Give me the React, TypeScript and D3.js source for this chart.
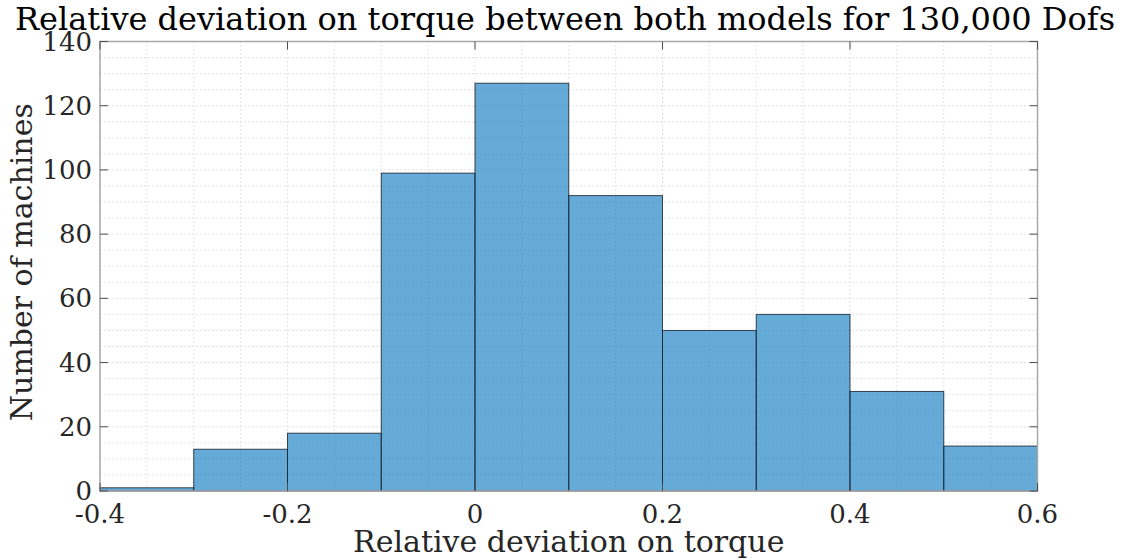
import React, { useEffect, useRef } from "react"
import * as d3 from "d3"

// bin edges and counts
const binEdges = [-0.4, -0.3, -0.2, -0.1, 0, 0.1, 0.2, 0.3, 0.4, 0.5, 0.6]
const binCounts = [1, 13, 18, 99, 127, 92, 50, 55, 31, 14]
const xTicks = [-0.4, -0.2, 0, 0.2, 0.4, 0.6]
const xTickLabels = ["-0.4", "-0.2", "0", "0.2", "0.4", "0.6"]
const yTicks = [0, 20, 40, 60, 80, 100, 120, 140]

const W = 1128
const H = 559
const margin = { left: 100, top: 41.5, right: 90.5, bottom: 68 }
const font = "'DejaVu Serif', serif"

const App = () => {
    const ref = useRef<SVGSVGElement>(null)

    useEffect(() => {
        const svg = d3.select(ref.current)
        svg.selectAll("*").remove()
        const x0 = margin.left
        const x1 = W - margin.right
        const y0 = H - margin.bottom
        const y1 = margin.top
        const xScale = d3.scaleLinear().domain([-0.4, 0.6]).range([x0, x1])
        const yScale = d3.scaleLinear().domain([0, 140]).range([y0, y1])

        // minor grid (every 0.05 / every 5)
        const gx = d3.range(-0.4, 0.6001, 0.05)
        const gy = d3.range(0, 140.01, 5)
        const grid = svg.append("g")
        grid.selectAll("line.gx")
            .data(gx)
            .enter()
            .append("line")
            .attr("x1", d => xScale(d))
            .attr("x2", d => xScale(d))
            .attr("y1", y0)
            .attr("y2", y1)
            .attr("stroke", "#e2e2e2")
            .attr("stroke-dasharray", "2,2")
        grid.selectAll("line.gy")
            .data(gy)
            .enter()
            .append("line")
            .attr("x1", x0)
            .attr("x2", x1)
            .attr("y1", d => yScale(d))
            .attr("y2", d => yScale(d))
            .attr("stroke", "#e2e2e2")
            .attr("stroke-dasharray", "2,2")

        // bars
        svg.append("g")
            .selectAll("rect")
            .data(binCounts)
            .enter()
            .append("rect")
            .attr("x", (d, i) => xScale(binEdges[i]))
            .attr("width", (d, i) => xScale(binEdges[i + 1]) - xScale(binEdges[i]))
            .attr("y", d => yScale(d))
            .attr("height", d => y0 - yScale(d))
            .attr("fill", "#0072BD")
            .attr("fill-opacity", 0.6)
            .attr("stroke", "#1c2833")
            .attr("stroke-opacity", 0.85)
            .attr("stroke-width", 1)

        // box
        svg.append("rect")
            .attr("x", x0)
            .attr("y", y1)
            .attr("width", x1 - x0)
            .attr("height", y0 - y1)
            .attr("fill", "none")
            .attr("stroke", "#a8a8a8")
            .attr("stroke-width", 1.5)

        const tickLen = 8
        const ticks = svg.append("g").attr("stroke", "#4d4d4d").attr("stroke-width", 1)
        xTicks.forEach(t => {
            ticks.append("line").attr("x1", xScale(t)).attr("x2", xScale(t)).attr("y1", y0).attr("y2", y0 - tickLen)
            ticks.append("line").attr("x1", xScale(t)).attr("x2", xScale(t)).attr("y1", y1).attr("y2", y1 + tickLen)
        })
        yTicks.forEach(t => {
            ticks.append("line").attr("x1", x0).attr("x2", x0 + tickLen).attr("y1", yScale(t)).attr("y2", yScale(t))
            ticks.append("line").attr("x1", x1).attr("x2", x1 - tickLen).attr("y1", yScale(t)).attr("y2", yScale(t))
        })

        // tick labels
        svg.append("g")
            .selectAll("text")
            .data(xTicks)
            .enter()
            .append("text")
            .attr("x", d => xScale(d))
            .attr("y", 523)
            .attr("text-anchor", "middle")
            .attr("font-family", font)
            .attr("font-size", 26)
            .attr("fill", "#262626")
            .text((d, i) => xTickLabels[i])
        svg.append("g")
            .selectAll("text")
            .data(yTicks)
            .enter()
            .append("text")
            .attr("x", x0 - 8)
            .attr("y", d => yScale(d) + 9)
            .attr("text-anchor", "end")
            .attr("font-family", font)
            .attr("font-size", 26)
            .attr("fill", "#262626")
            .text(d => d)

        // labels
        svg.append("text")
            .attr("x", (x0 + x1) / 2)
            .attr("y", 552)
            .attr("text-anchor", "middle")
            .attr("font-family", font)
            .attr("font-size", 30)
            .attr("fill", "#262626")
            .text("Relative deviation on torque")
        svg.append("text")
            .attr("transform", `translate(32,${(y0 + y1) / 2 - 4}) rotate(-90)`)
            .attr("text-anchor", "middle")
            .attr("font-family", font)
            .attr("font-size", 30)
            .attr("fill", "#262626")
            .text("Number of machines")
        svg.append("text")
            .attr("x", 565)
            .attr("y", 30)
            .attr("text-anchor", "middle")
            .attr("font-family", font)
            .attr("font-size", 32)
            .attr("fill", "#000")
            .text("Relative deviation on torque between both models for 130,000 Dofs")
    }, [])

    return <svg ref={ref} width={W} height={H} style={{ position: "absolute", left: 0, top: 0, background: "#fff" }} />
}

export default App
